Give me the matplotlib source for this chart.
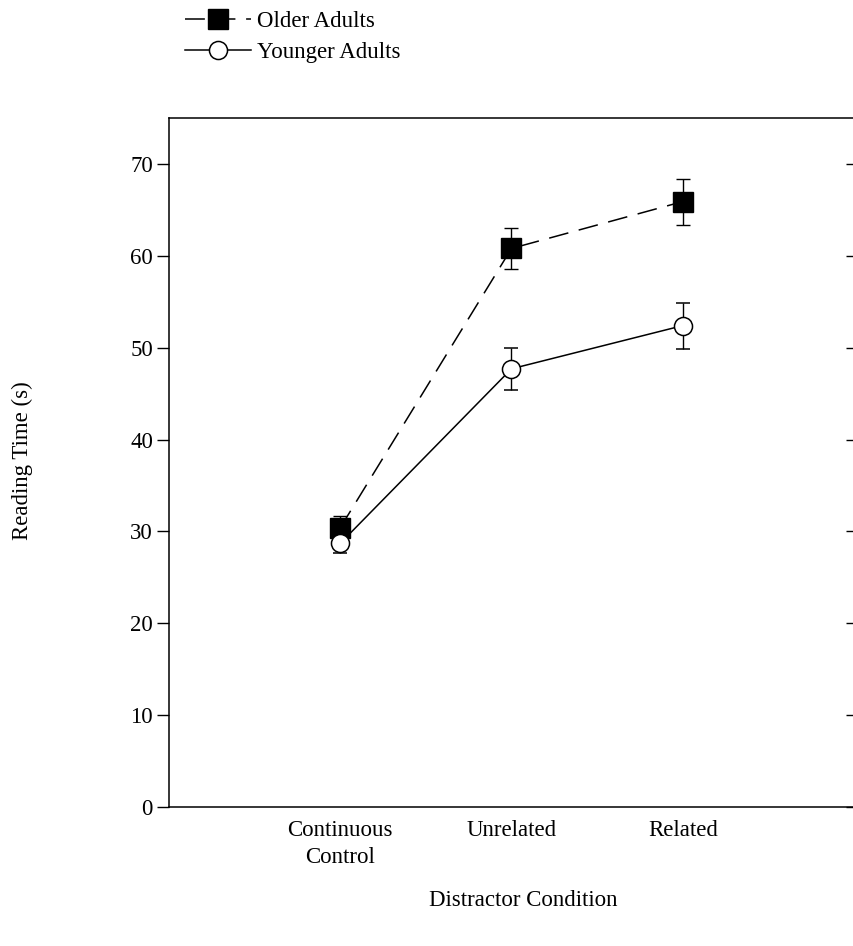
"""Reading time by distractor condition for older and younger adults."""
import matplotlib
matplotlib.use("Agg")
import matplotlib.pyplot as plt
from matplotlib.lines import Line2D

conditions = ["Continuous\nControl", "Unrelated", "Related"]
x_pos = [1, 2, 3]
older_mean = [30.4, 60.8, 65.9]
older_err = [1.3, 2.2, 2.5]
younger_mean = [28.7, 47.7, 52.4]
younger_err = [1.1, 2.3, 2.5]
y_ticks = [0, 10, 20, 30, 40, 50, 60, 70]

plt.rcParams["font.family"] = ["Liberation Serif", "DejaVu Serif"]
plt.rcParams["font.size"] = 16.5

fig = plt.figure(figsize=(8.54, 9.46), dpi=100)
ax = fig.add_axes([169 / 854, 139 / 946, 1 - 169 / 854, 689 / 946])

older_style = dict(color="black", lw=1.1, dashes=(13, 7), marker="s", ms=14,
                   mfc="black", mec="black")
younger_style = dict(color="black", lw=1.1, ls="-", marker="o", ms=13,
                     mfc="white", mec="black", mew=1.1)

ax.errorbar(x_pos, older_mean, yerr=older_err, ecolor="black",
            elinewidth=1.0, capsize=5, capthick=1.0, zorder=3, **older_style)
ax.errorbar(x_pos, younger_mean, yerr=younger_err, ecolor="black",
            elinewidth=1.0, capsize=5, capthick=1.0, zorder=3, **younger_style)

ax.set_xlim(0, 4)
ax.set_ylim(0, 75)
ax.set_xticks(x_pos)
ax.set_xticklabels(conditions, linespacing=1.4)
ax.set_yticks(y_ticks)
ax.tick_params(axis="x", length=0, pad=9)
ax.tick_params(axis="y", direction="out", length=8.6, width=1, pad=3)
ax.spines["right"].set_visible(False)
for s in ["left", "top", "bottom"]:
    ax.spines[s].set_linewidth(1.1)

# short inward ticks along the right edge
ax2 = ax.twinx()
ax2.set_ylim(ax.get_ylim())
ax2.set_yticks(y_ticks)
ax2.tick_params(axis="y", direction="in", length=5.8, width=1, labelright=False)
for s in ax2.spines.values():
    s.set_visible(False)

fig.text(22 / 854, 1 - 461 / 946, "Reading Time (s)", rotation=90,
         ha="center", va="center")
fig.text(523 / 854, 1 - 900 / 946, "Distractor Condition",
         ha="center", va="center")

handles = [Line2D([], [], **older_style), Line2D([], [], **younger_style)]
fig.legend(handles, ["Older Adults", "Younger Adults"], loc="upper left",
           bbox_to_anchor=(185 / 854, 1 - 11 / 946), frameon=False,
           handlelength=2.9, handletextpad=0.25, labelspacing=0.45,
           borderpad=0, borderaxespad=0)

fig.savefig("out.png", dpi=100)
